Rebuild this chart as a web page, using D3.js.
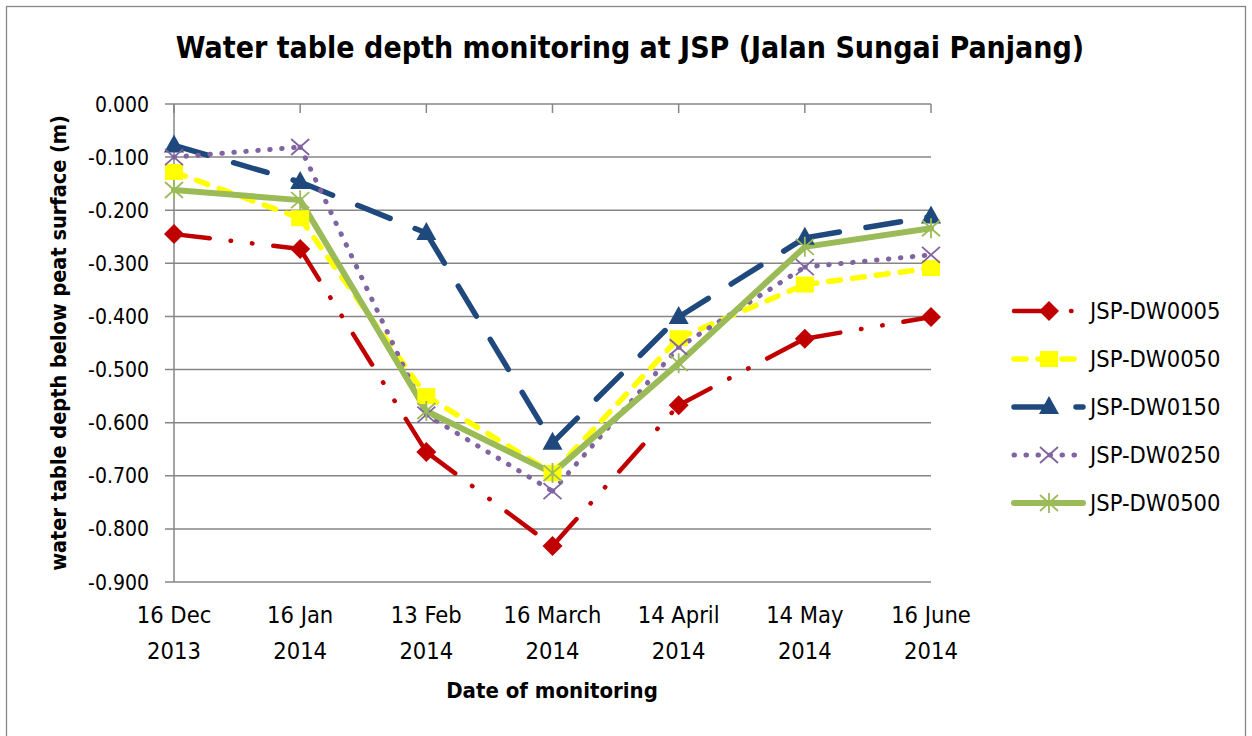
<!DOCTYPE html>
<html lang="en">
  <head>
    <meta charset="UTF-8">
    <title>Water table depth monitoring at JSP</title>
    <style>
      body { margin: 0; background: #fff; }
      svg text { font-family: "DejaVu Sans Condensed", "DejaVu Sans", sans-serif; fill: #000; }
    </style>
  </head>
  <body>
    <div id="chart-container"></div>
    <script src="https://d3js.org/d3.v7.min.js"></script>
    <script>
      // category labels (two lines each)
      const dates = ["16 Dec|2013", "16 Jan|2014", "13 Feb|2014", "16 March|2014", "14 April|2014", "14 May|2014", "16 June|2014"];
      const yTicks = [0, -0.1, -0.2, -0.3, -0.4, -0.5, -0.6, -0.7, -0.8, -0.9];

      // series values (m)
      const dw0005 = [-0.245, -0.273, -0.655, -0.832, -0.567, -0.442, -0.401];
      const dw0050 = [-0.128, -0.215, -0.550, -0.695, -0.441, -0.340, -0.309];
      const dw0150 = [-0.078, -0.147, -0.243, -0.638, -0.401, -0.252, -0.212];
      const dw0250 = [-0.100, -0.081, -0.585, -0.729, -0.458, -0.307, -0.284];
      const dw0500 = [-0.162, -0.181, -0.578, -0.695, -0.488, -0.269, -0.234];

      const series = [
        { name: "JSP-DW0005", values: dw0005, color: "#C00000", width: 4.5, dash: "36,21,0.5,21,0.5,21", marker: "diamond" },
        { name: "JSP-DW0050", values: dw0050, color: "#FFFF00", width: 5.5, dash: "12,12", marker: "square" },
        { name: "JSP-DW0150", values: dw0150, color: "#1F497D", width: 5.5, dash: "35,27", marker: "triangle" },
        { name: "JSP-DW0250", values: dw0250, color: "#8064A2", width: 5, dash: "0.5,11.5", marker: "cross" },
        { name: "JSP-DW0500", values: dw0500, color: "#9BBB59", width: 6, dash: null, marker: "star" }
      ];

      const W = 1252, H = 736;
      const plot = { left: 174, right: 931, top: 104, bottom: 582 };

      const svg = d3.select("#chart-container")
        .append("svg")
        .attr("width", W)
        .attr("height", H);

      // chart frame
      svg.append("rect")
        .attr("x", 6.5).attr("y", 6.5)
        .attr("width", 1239).attr("height", 760)
        .attr("fill", "#fff")
        .attr("stroke", "#868686")
        .attr("stroke-width", 1.3);

      const x = d3.scalePoint().domain(d3.range(dates.length)).range([plot.left, plot.right]);
      const y = d3.scaleLinear().domain([0, -0.9]).range([plot.top, plot.bottom]);

      // gridlines
      svg.append("g")
        .selectAll("line")
        .data(yTicks)
        .join("line")
        .attr("x1", plot.left - 9).attr("x2", plot.right)
        .attr("y1", d => y(d)).attr("y2", d => y(d))
        .attr("stroke", "#868686")
        .attr("stroke-width", 1.5);

      // y axis line
      svg.append("line")
        .attr("x1", plot.left).attr("x2", plot.left)
        .attr("y1", plot.top).attr("y2", plot.bottom)
        .attr("stroke", "#868686").attr("stroke-width", 1.5);

      // x axis ticks (axis sits at 0)
      svg.append("g")
        .selectAll("line")
        .data(d3.range(dates.length))
        .join("line")
        .attr("x1", d => x(d)).attr("x2", d => x(d))
        .attr("y1", plot.top).attr("y2", plot.top + 9)
        .attr("stroke", "#868686").attr("stroke-width", 1.5);

      // y tick labels
      svg.append("g")
        .selectAll("text")
        .data(yTicks)
        .join("text")
        .attr("x", 149)
        .attr("y", d => y(d))
        .attr("dy", "0.36em")
        .attr("text-anchor", "end")
        .style("font-size", "21px")
        .text(d => d3.format(".3f")(d).replace("−", "-"));

      // x tick labels
      const xl = svg.append("g")
        .selectAll("text")
        .data(dates)
        .join("text")
        .attr("text-anchor", "middle")
        .style("font-size", "23.5px");
      xl.append("tspan")
        .attr("x", (d, i) => x(i)).attr("y", 623)
        .text(d => d.split("|")[0]);
      xl.append("tspan")
        .attr("x", (d, i) => x(i)).attr("y", 659)
        .text(d => d.split("|")[1]);

      // title
      svg.append("text")
        .attr("x", 630).attr("y", 58)
        .attr("text-anchor", "middle")
        .style("font-size", "30px")
        .style("font-weight", "bold")
        .text("Water table depth monitoring at JSP (Jalan Sungai Panjang)");

      // axis titles
      svg.append("text")
        .attr("x", 552).attr("y", 698)
        .attr("text-anchor", "middle")
        .style("font-size", "22px")
        .style("font-weight", "bold")
        .text("Date of monitoring");

      svg.append("text")
        .attr("transform", "translate(66,343) rotate(-90)")
        .attr("text-anchor", "middle")
        .style("font-size", "21.5px")
        .style("font-weight", "bold")
        .text("water table depth below peat surface (m)");

      // marker drawing
      function drawMarker(g, type, color) {
        if (type === "diamond") {
          g.append("path").attr("d", "M0,-10L10,0L0,10L-10,0Z").attr("fill", color);
        } else if (type === "square") {
          g.append("rect").attr("x", -9).attr("y", -8).attr("width", 18).attr("height", 16).attr("fill", color);
        } else if (type === "triangle") {
          g.append("path").attr("d", "M0,-11L10,7L-10,7Z").attr("fill", color);
        } else if (type === "cross") {
          g.append("path").attr("d", "M-9,-8L9,8M-9,8L9,-8").attr("stroke", color).attr("stroke-width", 1.8).attr("fill", "none");
        } else if (type === "star") {
          g.append("path").attr("d", "M-9,-8L9,8M-9,8L9,-8M0,-10L0,10").attr("stroke", color).attr("stroke-width", 1.8).attr("fill", "none");
        }
      }

      const line = d3.line()
        .x(d => x(d.i))
        .y(d => y(d.v));

      // each segment restarts its dash pattern, as the spreadsheet does
      series.forEach(s => {
        const pts = s.values.map((v, i) => ({ i: i, v: v }));
        const segs = d3.pairs(pts);
        svg.append("g")
          .selectAll("path")
          .data(segs)
          .join("path")
          .attr("fill", "none")
          .attr("stroke", s.color)
          .attr("stroke-width", s.width)
          .attr("stroke-linecap", "round")
          .attr("stroke-dasharray", s.dash)
          .attr("d", line);
      });

      series.forEach(s => {
        s.values.forEach((v, i) => {
          const g = svg.append("g").attr("transform", "translate(" + x(i) + "," + y(v) + ")");
          drawMarker(g, s.marker, s.color);
        });
      });

      // legend
      const legend = svg.append("g");
      series.forEach((s, i) => {
        const ly = 311 + i * 48;
        legend.append("line")
          .attr("x1", 1014).attr("x2", 1083)
          .attr("y1", ly).attr("y2", ly)
          .attr("stroke", s.color)
          .attr("stroke-width", s.width)
          .attr("stroke-linecap", "round")
          .attr("stroke-dasharray", s.dash);
        const g = legend.append("g").attr("transform", "translate(1049," + ly + ")");
        drawMarker(g, s.marker, s.color);
        legend.append("text")
          .attr("x", 1090).attr("y", ly)
          .attr("dy", "0.36em")
          .style("font-size", "23.5px")
          .text(s.name);
      });
    </script>
  </body>
</html>
